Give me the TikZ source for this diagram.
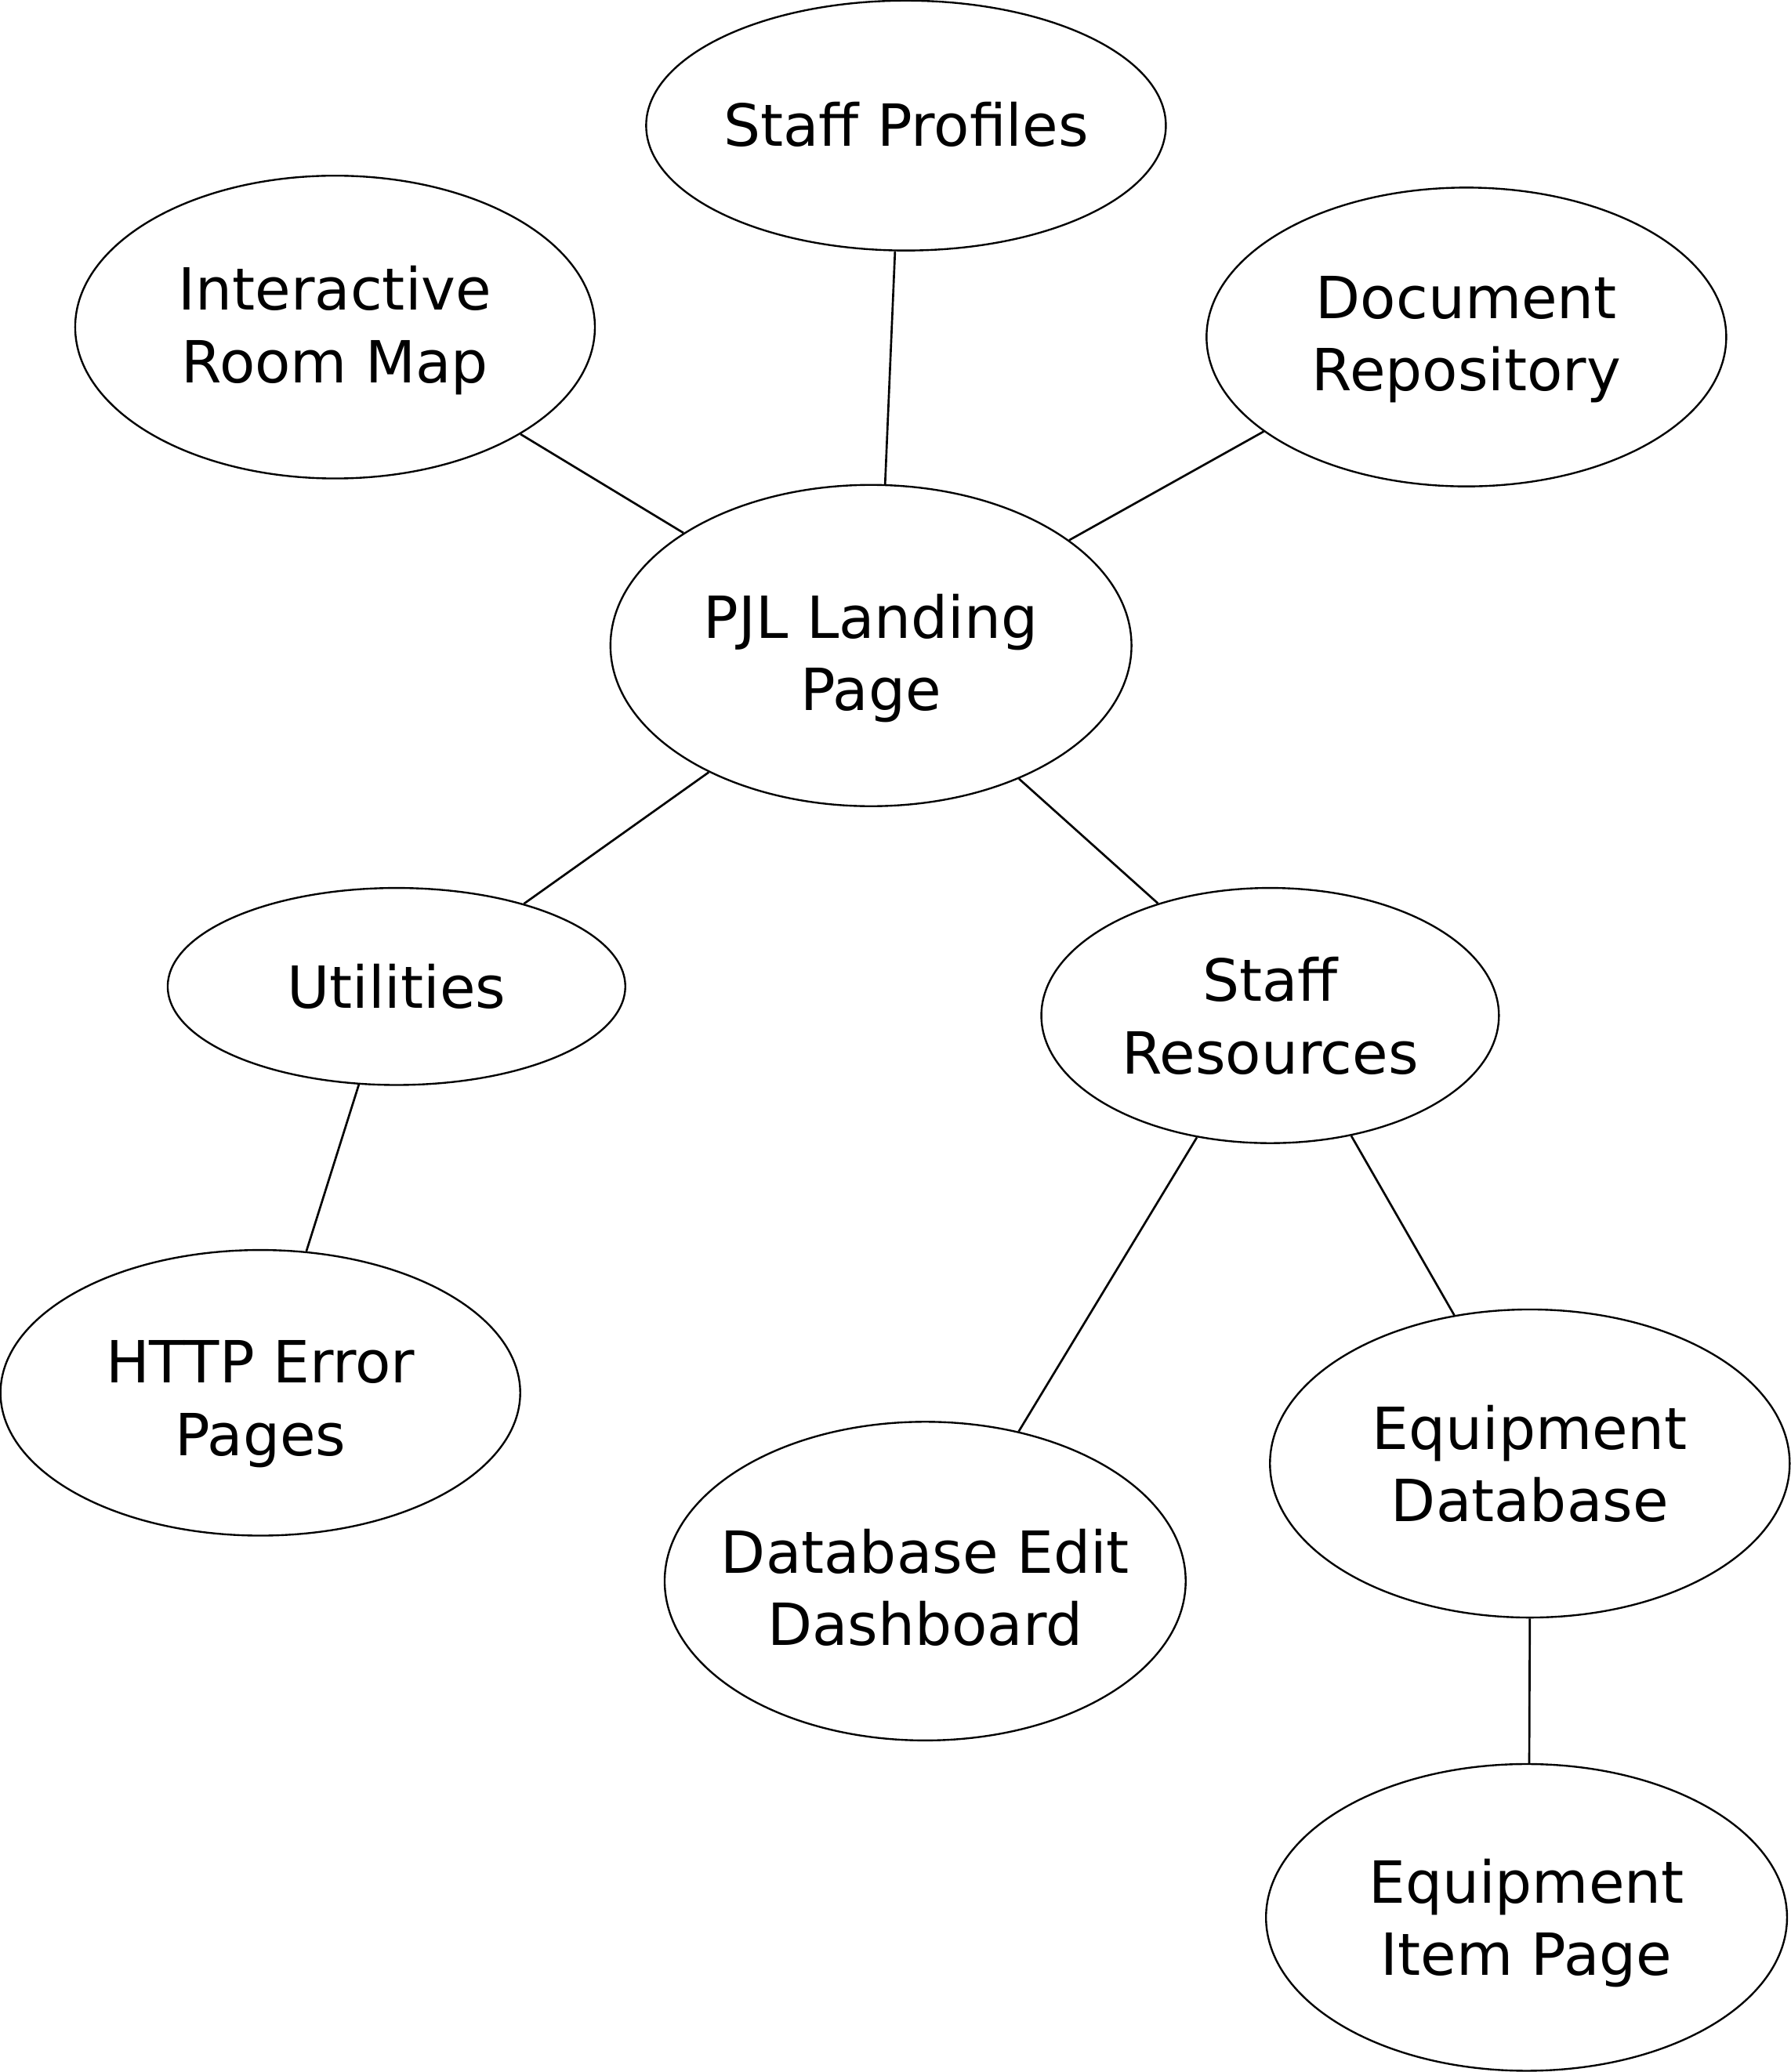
\documentclass[tikz,border=0pt]{standalone}
\usepackage{fontspec}
\setmainfont{DejaVu Sans}
\usetikzlibrary{shapes.geometric}
\newcommand\lbl[2][-4.6pt]{\raisebox{#1}[0pt][0pt]{\makebox[0pt]{\begin{tabular}{@{}c@{}}#2\end{tabular}}}}
\tikzset{
  bub/.style={ellipse, draw, line width=0.4pt, inner sep=0pt},
  link/.style={line width=0.45pt}
}
\begin{document}
\begin{tikzpicture}[x=0.01cm, y=-0.01cm, every node/.style={font=\fontsize{12.5}{15.6}\selectfont}]
\useasboundingbox (0,0) rectangle (1355,1568);
\fill[white] (0,0) rectangle (1355,1568);
\node[bub, minimum width=3.93cm, minimum height=1.89cm] (sp) at (685.5,95) {\lbl[-4.3pt]{Staff Profiles}};
\node[bub, minimum width=3.93cm, minimum height=2.29cm] (irm) at (253.5,247.5) {\lbl[-4.0pt]{Interactive\\Room Map}};
\node[bub, minimum width=3.93cm, minimum height=2.26cm] (dr) at (1109.5,255) {\lbl[-3.7pt]{Document\\Repository}};
\node[bub, minimum width=3.94cm, minimum height=2.43cm] (pjl) at (659,488.5) {\lbl[-6.1pt]{PJL Landing\\Page}};
\node[bub, minimum width=3.46cm, minimum height=1.49cm] (ut) at (300,746.5) {\lbl[-4.5pt]{Utilities}};
\node[bub, minimum width=3.46cm, minimum height=1.93cm] (sr) at (961,768.5) {\lbl{Staff\\Resources}};
\node[bub, minimum width=3.93cm, minimum height=2.16cm] (http) at (197,1054) {\lbl[-5.6pt]{HTTP Error\\Pages}};
\node[bub, minimum width=3.94cm, minimum height=2.41cm] (dbe) at (700,1196.5) {\lbl[-5.9pt]{Database Edit\\Dashboard}};
\node[bub, minimum width=3.93cm, minimum height=2.33cm] (edb) at (1157.5,1107.5) {\lbl{Equipment\\Database}};
\node[bub, minimum width=3.94cm, minimum height=2.32cm] (eip) at (1155,1451) {\lbl{Equipment\\Item Page}};
\draw[link] (irm.-30.5) -- (pjl.149.1);
\draw[link] (sp.265.5) -- (pjl.85.3);
\draw[link] (dr.205.7) -- (pjl.28.5);
\draw[link] (pjl.218) -- (ut.33.2);
\draw[link] (pjl.-42.2) -- (sr.135.5);
\draw[link] (ut.249.8) -- (http.72.7);
\draw[link] (sr.239.4) -- (dbe.58.7);
\draw[link] (sr.-56.7) -- (edb.117.5);
\draw[link] (edb.270.2) -- (eip.89);
\end{tikzpicture}
\end{document}
